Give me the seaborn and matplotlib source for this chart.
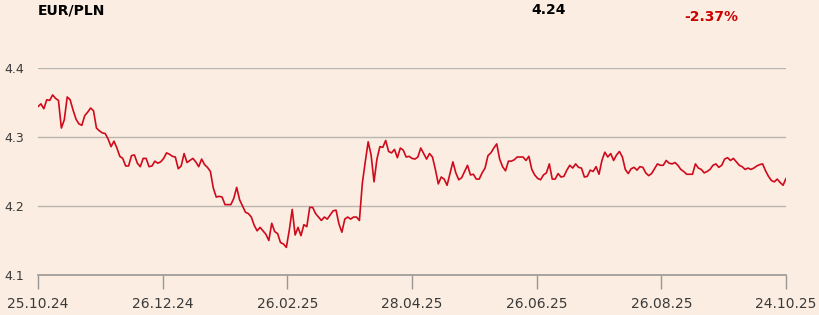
import numpy as np
import pandas as pd
import matplotlib
matplotlib.use("Agg")
import matplotlib.pyplot as plt
import seaborn as sns

# ---------------- data ----------------
title = "EUR/PLN"
last_value_label = "4.24"
change_label = "-2.37%"

tick_labels = ["25.10.24", "26.12.24", "26.02.25", "28.04.25",
               "26.06.25", "26.08.25", "24.10.25"]
y_ticks = [4.1, 4.2, 4.3, 4.4]
y_tick_labels = ["4.1", "4.2", "4.3", "4.4"]

values_a = [4.344, 4.348, 4.341, 4.354, 4.353, 4.361, 4.356, 4.353, 4.313, 4.325,
            4.358, 4.354, 4.339, 4.326, 4.319, 4.317, 4.331, 4.336, 4.342, 4.338,
            4.313, 4.309, 4.306, 4.305, 4.297, 4.286, 4.294, 4.284, 4.272, 4.269,
            4.258, 4.258, 4.273, 4.274, 4.262, 4.257, 4.269, 4.269, 4.257, 4.258,
            4.265, 4.262, 4.264, 4.269]
values_b = [4.277, 4.275, 4.272, 4.271, 4.254, 4.258, 4.276, 4.263, 4.266, 4.269,
            4.264, 4.257, 4.268, 4.260, 4.256, 4.250, 4.226, 4.213, 4.214, 4.213,
            4.202, 4.202, 4.202, 4.211, 4.227, 4.209, 4.200, 4.191, 4.189, 4.184,
            4.172, 4.164, 4.169, 4.164, 4.159, 4.150, 4.175, 4.163, 4.160, 4.147,
            4.145, 4.140]
values_c = [4.165, 4.195, 4.158, 4.169, 4.157, 4.173, 4.170, 4.198, 4.198, 4.189,
            4.184, 4.179, 4.184, 4.181, 4.187, 4.193, 4.194, 4.174, 4.162, 4.181,
            4.184, 4.181, 4.184, 4.184, 4.179, 4.233, 4.264, 4.293, 4.274, 4.235,
            4.268, 4.286, 4.285, 4.295, 4.279, 4.277, 4.282, 4.270, 4.284, 4.281,
            4.271, 4.272, 4.269]
values_d = [4.268, 4.271, 4.284, 4.276, 4.268, 4.276, 4.271, 4.253, 4.232, 4.242,
            4.239, 4.230, 4.247, 4.264, 4.248, 4.238, 4.241, 4.250, 4.259, 4.245,
            4.246, 4.239, 4.239, 4.248, 4.255, 4.273, 4.277, 4.284, 4.290, 4.268,
            4.257, 4.251, 4.265, 4.265, 4.267, 4.271, 4.271, 4.271, 4.266, 4.272,
            4.253, 4.245, 4.240]
values_e = [4.238, 4.245, 4.248, 4.261, 4.239, 4.239, 4.247, 4.242, 4.243, 4.252,
            4.259, 4.255, 4.261, 4.256, 4.255, 4.242, 4.243, 4.252, 4.250, 4.257,
            4.246, 4.266, 4.278, 4.271, 4.276, 4.266, 4.274, 4.279, 4.271, 4.253,
            4.247, 4.254, 4.256, 4.252, 4.257, 4.256, 4.248, 4.244, 4.247, 4.254,
            4.261, 4.259, 4.259]
values_f = [4.266, 4.262, 4.261, 4.263, 4.259, 4.253, 4.250, 4.246, 4.246, 4.246,
            4.261, 4.255, 4.253, 4.248, 4.250, 4.253, 4.259, 4.261, 4.256, 4.259,
            4.268, 4.270, 4.266, 4.269, 4.264, 4.259, 4.257, 4.253, 4.255, 4.253,
            4.255, 4.258, 4.260, 4.261, 4.251, 4.243, 4.237, 4.235, 4.239, 4.234,
            4.230, 4.240]

values = values_a + values_b + values_c + values_d + values_e + values_f
df = pd.DataFrame({"idx": np.arange(len(values)), "rate": values})

# ---------------- style ----------------
bg = "#FBEDE1"
line_color = "#CF0A1C"
grid_color = "#B9B6B2"
axis_color = "#9A9794"
text_color = "#3A3A3A"

sns.set_theme(style="white")
plt.rcParams["font.family"] = ["DejaVu Sans"]

fig = plt.figure(figsize=(8.19, 3.15), dpi=100)
fig.patch.set_facecolor(bg)
ax = fig.add_axes([38 / 819, 40 / 315, 748 / 819, 207 / 315])
ax.set_facecolor(bg)

sns.lineplot(data=df, x="idx", y="rate", ax=ax, color=line_color,
             linewidth=1.2, zorder=3)

ax.set_xlim(0, len(values) - 1)
ax.set_ylim(4.1, 4.4)

for yv in y_ticks[1:]:
    ax.axhline(yv, color=grid_color, linewidth=1.0, zorder=1)

for s in ["top", "right", "left"]:
    ax.spines[s].set_visible(False)
ax.spines["bottom"].set_color(axis_color)
ax.spines["bottom"].set_linewidth(1.2)

xt = np.linspace(0, len(values) - 1, len(tick_labels))
ax.set_xticks(xt)
ax.set_xticklabels(tick_labels, fontsize=10, color=text_color)
ax.tick_params(axis="x", direction="out", length=10, width=1.0,
               color=axis_color, pad=5.5, bottom=True)

ax.set_yticks(y_ticks)
ax.set_yticklabels(y_tick_labels, fontsize=9, color=text_color)
ax.tick_params(axis="y", length=0, pad=24, left=True)
for lab in ax.get_yticklabels():
    lab.set_horizontalalignment("left")

ax.set_xlabel("")
ax.set_ylabel("")

fig.text(38 / 819, 1 - 11 / 315, title, fontsize=10, fontweight="bold",
         color="#000000", ha="left", va="center")
fig.text(549 / 819, 1 - 10 / 315, last_value_label, fontsize=10, fontweight="bold",
         color="#000000", ha="center", va="center")
fig.text(711 / 819, 1 - 17 / 315, change_label, fontsize=10, fontweight="bold",
         color="#CC0000", ha="center", va="center")

fig.savefig("out.png", dpi=100, facecolor=bg)
